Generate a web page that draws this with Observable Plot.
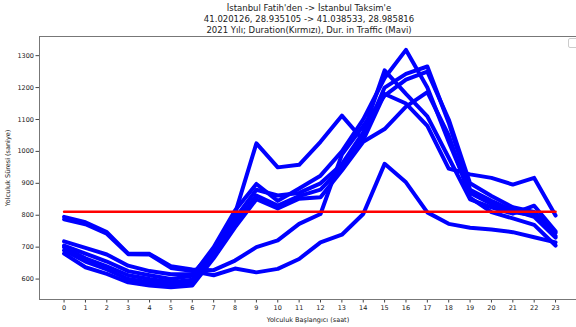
<!DOCTYPE html>
<html><head><meta charset="utf-8">
<script src="https://cdn.jsdelivr.net/npm/d3@7"></script>
<script src="https://cdn.jsdelivr.net/npm/@observablehq/plot@0.6"></script>
<style>
html,body{margin:0;padding:0;background:#fff;}
body{width:576px;height:327px;overflow:hidden;position:relative;font-family:"DejaVu Sans",sans-serif;}
#title{position:absolute;left:109px;top:3px;width:400px;text-align:center;font-size:8.5px;line-height:11px;color:#222;}
#chart{position:absolute;left:0;top:34px;}
#legend{position:absolute;left:568px;top:38px;width:10px;height:8px;border:1px solid #ccc;border-radius:2px;background:#fff;}
</style></head>
<body>
<div id="title">İstanbul Fatih'den -&gt; İstanbul Taksim'e<br>41.020126, 28.935105 -&gt; 41.038533, 28.985816<br>2021 Yılı; Duration(Kırmızı), Dur. in Traffic (Mavi)</div>
<div id="chart"></div>
<div id="legend"></div>
<script>
const hours = [0,1,2,3,4,5,6,7,8,9,10,11,12,13,14,15,16,17,18,19,20,21,22,23];
const yTicks = [600,700,800,900,1000,1100,1200,1300];
const durationRed = 811;

const line1 = [705,680,655,625,612,600,610,700,815,898,845,884,924,1000,1100,1230,1318,1200,1030,870,835,810,800,735];
const line2 = [718,698,677,642,625,615,615,690,790,880,862,870,900,960,1060,1254,1180,1110,980,850,825,805,830,750];
const line3 = [690,655,630,600,590,580,590,680,775,862,830,860,880,950,1045,1200,1243,1266,1090,880,845,815,795,730];
const line4 = [680,637,616,590,580,574,580,665,762,850,821,852,856,940,1030,1070,1140,1186,1050,855,810,790,770,705];
const line5 = [700,665,640,612,600,590,598,690,805,1025,950,958,1030,1112,1035,1180,1150,1080,946,928,917,896,917,799];
const line6 = [795,778,747,680,679,640,630,628,658,700,721,773,804,990,1080,1175,1225,1250,1100,900,860,825,810,745];
const line7 = [787,772,742,678,677,635,625,612,633,621,632,663,715,739,804,961,903,809,773,761,755,747,731,715];

const series = [
  {name:"1", values:line1},{name:"2", values:line2},{name:"3", values:line3},
  {name:"4", values:line4},{name:"5", values:line5},{name:"6", values:line6},{name:"7", values:line7}
];
const rows = [];
series.forEach(s => s.values.forEach((v,i) => rows.push({h:hours[i], v, s:s.name})));
const redRows = [{h:hours[0], v:durationRed},{h:hours[hours.length-1], v:durationRed}];

const chart = Plot.plot({
  width:576, height:293,
  marginLeft:39, marginRight:0, marginTop:2, marginBottom:28,
  x:{domain:[-1.15,23.98]},
  y:{domain:[536,1360]},
  style:{fontFamily:"DejaVu Sans", fontSize:"6.5px", color:"#222", background:"white"},
  marks:[
    Plot.line(rows,{x:"h", y:"v", z:"s", stroke:"#0000ff", strokeWidth:4}),
    Plot.line(redRows,{x:"h", y:"v", stroke:"#ff0000", strokeWidth:2.5}),
    Plot.axisX({ticks:hours, tickSize:3.5, tickPadding:2, stroke:"#444", fill:"#222", tickFormat:d=>String(d), label:"Yolculuk Başlangıcı (saat)", labelAnchor:"center", labelArrow:"none", labelOffset:22}),
    Plot.axisY({ticks:yTicks, tickSize:3.5, tickPadding:2, stroke:"#444", fill:"#222", tickFormat:d=>String(d), label:"Yolculuk Süresi (saniye)", labelAnchor:"center", labelArrow:"none", labelOffset:34}),
    Plot.frame({stroke:"#777", strokeWidth:1})
  ]
});
document.getElementById("chart").appendChild(chart);
</script>
</body></html>
